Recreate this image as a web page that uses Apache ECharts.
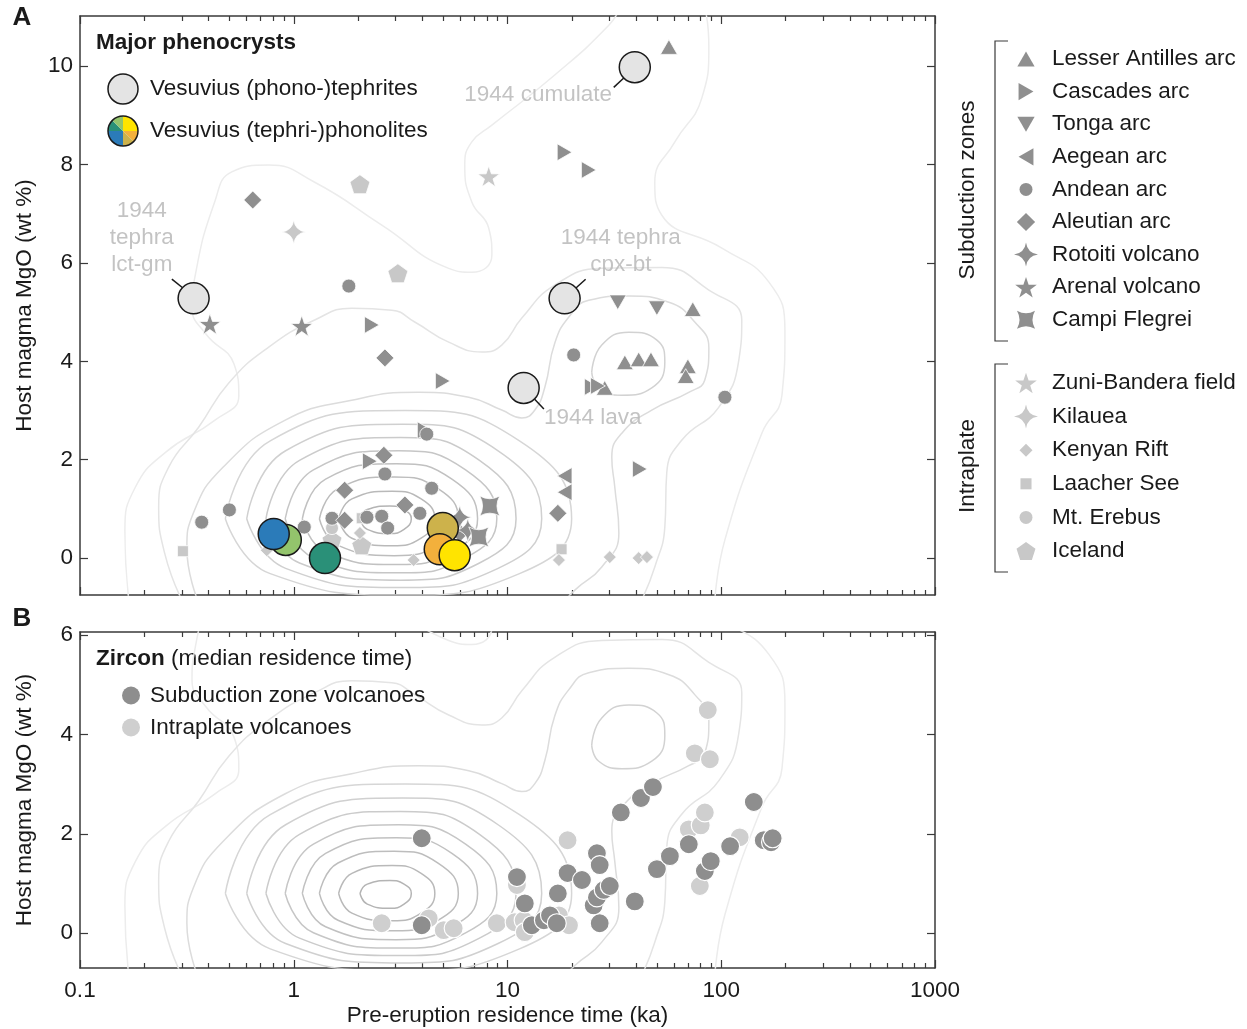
<!DOCTYPE html>
<html>
<head>
<meta charset="utf-8">
<title>Pre-eruption residence time vs host magma MgO</title>
<script src="https://cdn.jsdelivr.net/npm/echarts@6/dist/echarts.min.js"></script>
<style>
  html, body { margin: 0; padding: 0; background: #fff; }
  #chart { width: 1247px; height: 1029px; }
</style>
</head>
<body>
<div id="chart"></div>
<script>
// ---- ticks ----
var xMajor = [0.1, 1, 10, 100, 1000];
var xMinor = [0.2, 0.3, 0.4, 0.5, 0.6, 0.7, 0.8, 0.9, 2, 3, 4, 5, 6, 7, 8, 9,
  20, 30, 40, 50, 60, 70, 80, 90, 200, 300, 400, 500, 600, 700, 800, 900];
var yTicksA = [0, 2, 4, 6, 8, 10];
var yTicksB = [0, 2, 4, 6];

// ---- panel A: [residence time (ka), MgO (wt %)] ----
var lesserAntilles = [[56.9, 10.39], [73.6, 5.06], [35.4, 3.98], [41.1, 4.04], [46.9, 4.04], [69.8, 3.9], [68.2, 3.7], [28.5, 3.46]];
var cascades = [[18.5, 8.25], [24.0, 7.89], [2.32, 4.74], [4.98, 3.6], [4.1, 2.6], [2.27, 1.97], [41.6, 1.81], [24.8, 3.48], [26.5, 3.5]];
var tonga = [[32.8, 5.2], [50.0, 5.08]];
var aegean = [[18.5, 1.67], [18.5, 1.34]];
var andean = [[0.371, 0.73], [0.50, 0.98], [1.81, 5.53], [1.12, 0.63], [2.67, 1.71], [1.51, 0.81], [2.2, 0.83], [2.58, 0.85],
  [2.75, 0.61], [4.42, 1.42], [3.89, 0.91], [20.4, 4.13], [104, 3.27], [4.19, 2.52]];
var aleutian = [[0.643, 7.28], [2.67, 4.07], [2.64, 2.09], [1.73, 1.38], [3.31, 1.08], [1.73, 0.77], [17.2, 0.91], [5.37, 0.63], [5.98, 0.51]];
var rotoiti = [[5.98, 0.83], [6.52, 0.57]];
var arenal = [[0.405, 4.76], [1.09, 4.72]];
var campiFlegrei = [[8.26, 1.06], [7.34, 0.43]];
var zuniBandera = [[8.17, 7.76]];
var kilauea = [[1.0, 6.63]];
var kenyanRift = [[0.748, 0.16], [3.64, -0.04], [6.11, 0.02], [17.4, -0.04], [30.1, 0.02], [41.1, 0.0], [44.9, 0.02], [2.04, 0.51], [1.54, 0.12]];
var laacherSee = [[0.303, 0.14], [17.9, 0.18], [2.08, 0.81]];
var mtErebus = [[1.51, 0.61]];
var iceland = [[2.04, 7.6], [3.07, 5.79], [2.08, 0.26], [1.51, 0.37]];

var vesuviusTephrites = [[0.340, 5.28], [39.4, 9.98], [18.5, 5.28], [11.9, 3.46]];
var vesuviusPhonolites = [[0.918, 0.37], [0.806, 0.49], [1.40, 0.0], [4.98, 0.61], [4.82, 0.18], [5.66, 0.06]];
var phonoliteColors = ['#93c46c', '#2b7bb9', '#2a9078', '#cdb24b', '#f3b03c', '#ffe400'];

// 1944 annotations: anchor point of text, and leader line ends
var noteTexts = ['1944\ntephra\nlct-gm', '1944 cumulate', '1944 tephra\ncpx-bt', '1944 lava'];
var noteAnchors = [[0.1945, 6.52], [30.8, 9.41], [33.9, 6.24], [14.8, 2.85]];
var noteLeaders = [
  [[0.303, 5.49], [0.269, 5.67]],
  [[35.0, 9.76], [31.4, 9.57]],
  [[20.9, 5.49], [23.2, 5.67]],
  [[13.4, 3.23], [14.8, 3.03]]
];

// ---- panel B: zircon ----
var zirconSubduction = [[3.97, 1.91], [3.97, 0.16], [11.07, 1.13], [12.05, 0.6], [13.0, 0.16], [14.8, 0.26], [15.8, 0.36], [17.0, 0.2],
  [17.2, 0.8], [19.1, 1.21], [22.3, 1.07], [26.2, 1.61], [27.0, 1.37], [25.3, 0.56], [26.2, 0.72], [28.2, 0.87], [30.1, 0.95],
  [27.0, 0.2], [39.4, 0.64], [33.9, 2.43], [42.1, 2.72], [47.9, 2.94], [50.0, 1.29], [57.5, 1.55], [70.5, 1.79], [83.8, 1.25],
  [89.3, 1.45], [110, 1.75], [142, 2.64], [158, 1.87], [171, 1.83], [174, 1.91]];
var zirconIntraplate = [[2.58, 0.2], [4.28, 0.3], [5.03, 0.06], [5.6, 0.1], [8.91, 0.2], [11.07, 0.97], [10.8, 0.22], [11.9, 0.26],
  [12.05, 0.02], [17.4, 0.36], [19.4, 0.16], [19.1, 1.87], [70.5, 2.09], [80.2, 2.17], [83.8, 2.43], [86.5, 4.49], [75.2, 3.62],
  [88.5, 3.5], [79.4, 0.95], [122, 1.93]];

// ---- density contours, [log10(ka), MgO] ----
var contourOuter = [[-0.772, -0.85], [-0.79, 0.55], [-0.74, 1.45], [-0.6, 2.15], [-0.37, 2.8], [-0.257, 3.3], [-0.28, 3.95], [-0.41, 4.55],
  [-0.476, 5.1], [-0.463, 5.7], [-0.37, 7.24], [-0.29, 7.85], [-0.117, 7.99], [0.098, 7.64], [0.412, 6.77], [0.725, 5.89], [0.833, 5.81],
  [0.927, 6.16], [0.912, 6.71], [0.833, 7.24], [0.8, 7.99], [0.833, 8.46], [0.927, 8.8], [1.221, 9.82], [1.474, 10.83], [1.63, 11.65],
  [1.82, 11.65], [1.942, 10.37], [1.909, 9.35], [1.783, 8.46], [1.689, 7.64], [1.722, 6.97], [2.003, 6.3], [2.223, 5.61], [2.298, 4.59],
  [2.284, 3.31], [2.19, 2.54], [2.017, 0.37], [1.97, -0.85]];
var contourSecond = [[-0.524, -0.85], [-0.604, 0.1], [-0.632, 1.04], [-0.585, 1.85], [-0.445, 2.66], [-0.304, 3.56], [-0.117, 4.29],
  [0.098, 4.84], [0.271, 5.08], [0.459, 5.04], [0.566, 4.8], [0.725, 4.39], [0.88, 4.19], [0.973, 4.33], [1.067, 4.88], [1.221, 5.55],
  [1.441, 5.89], [1.722, 5.91], [1.942, 5.45], [2.096, 4.84], [2.082, 4.02], [1.989, 3.07], [1.816, 2.4], [1.745, 1.73], [1.736, 0.63],
  [1.689, -0.18], [1.628, -0.85]];
var contourBothPeaks = [[-0.45, -0.85], [-0.5, 0.2], [-0.47, 0.91], [-0.33, 1.85], [-0.042, 2.8], [0.271, 3.21], [0.585, 3.37],
  [0.819, 3.27], [0.973, 3.01], [1.067, 2.85], [1.128, 3.01], [1.175, 3.48], [1.221, 4.37], [1.287, 4.9], [1.38, 5.24], [1.568, 5.33],
  [1.755, 5.2], [1.876, 4.8], [1.942, 4.27], [1.923, 3.62], [1.848, 3.37], [1.675, 3.01], [1.535, 2.54], [1.488, 2.05], [1.502, 1.44],
  [1.521, 0.51], [1.441, -0.18], [1.315, -0.65], [1.254, -0.95]];
var contourPeak2 = [[1.394, 3.78], [1.441, 4.33], [1.568, 4.59], [1.699, 4.43], [1.736, 3.98], [1.675, 3.46], [1.535, 3.31], [1.427, 3.46], [1.394, 3.78]];
var ring8 = [[-0.32, 0.8], [-0.11, 2.384], [0.52, 3.0], [1.056, 2.384], [1.30, 0.8], [1.056, -0.316], [0.52, -0.75], [-0.11, -0.316], [-0.32, 0.8]];
var ring7 = [[-0.22, 0.8], [-0.038, 2.182], [0.51, 2.72], [0.956, 2.182], [1.16, 0.8], [0.956, -0.208], [0.51, -0.6], [-0.038, -0.208], [-0.22, 0.8]];
var ring6 = [[-0.13, 0.8], [0.027, 1.988], [0.50, 2.45], [0.869, 1.988], [1.04, 0.8], [0.869, -0.1], [0.50, -0.45], [0.027, -0.1], [-0.13, 0.8]];
var ring5 = [[-0.04, 0.8], [0.092, 1.794], [0.49, 2.18], [0.804, 1.794], [0.95, 0.8], [0.804, 0.008], [0.49, -0.3], [0.092, 0.008], [-0.04, 0.8]];
var ring4 = [[0.04, 0.8], [0.149, 1.606], [0.48, 1.92], [0.74, 1.606], [0.86, 0.8], [0.74, 0.13], [0.48, -0.13], [0.149, 0.13], [0.04, 0.8]];
var ring3 = [[0.12, 0.8], [0.207, 1.412], [0.47, 1.65], [0.675, 1.412], [0.77, 0.8], [0.675, 0.26], [0.47, 0.05], [0.207, 0.26], [0.12, 0.8]];
var ring2 = [[0.21, 0.8], [0.272, 1.203], [0.46, 1.36], [0.596, 1.203], [0.66, 0.8], [0.596, 0.404], [0.46, 0.25], [0.272, 0.404], [0.21, 0.8]];
var ring1 = [[0.31, 0.8], [0.344, 0.987], [0.45, 1.06], [0.516, 0.987], [0.55, 0.8], [0.516, 0.584], [0.45, 0.5], [0.344, 0.584], [0.31, 0.8]];

var contourLines = [contourOuter, contourSecond, contourBothPeaks, contourPeak2, ring8, ring7, ring6, ring5, ring4, ring3, ring2, ring1];
var contourColors = ['#ececec', '#e4e4e4', '#dcdcdc', '#d2d2d2', '#d6d6d6', '#d0d0d0', '#cbcbcb', '#c6c6c6', '#c1c1c1', '#bdbdbd', '#b9b9b9', '#b4b4b4'];

var FONT = '"Liberation Sans", Arial, sans-serif';
var FS = 22.5;
var INK = '#1a1a1a';
var DARK = '#8f8f8f';
var LIGHT = '#c8c8c8';
var AXIS = '#3a3a3a';

var SYM = {
  up: 'path://M50,0 L100,87 L0,87 Z',
  right: 'path://M0,0 L87,50 L0,100 Z',
  down: 'path://M0,0 L100,0 L50,87 Z',
  left: 'path://M87,0 L87,100 L0,50 Z',
  star5: 'path://M50,0 L61.8,35.3 L98.9,35.5 L69,57.7 L80.3,93.1 L50,71.5 L19.7,93.1 L31,57.7 L1.1,35.5 L38.2,35.3 Z',
  star4: 'path://M50,0 Q56,44 100,50 Q56,56 50,100 Q44,56 0,50 Q44,44 50,0 Z',
  bowtie: 'path://M0,0 Q50,28 100,0 Q72,50 100,100 Q50,72 0,100 Q28,50 0,0 Z',
  pentagon: 'path://M50,0 L97.6,34.5 L79.4,90.5 L20.6,90.5 L2.4,34.5 Z'
};

// legend icons: same shapes inside a fixed 0..100 box so their sizes differ like the marks
var BOX = 'path://M0,0 M100,100 ';
var ICON = {
  up: BOX + 'M50,19 L86,81 L14,81 Z',
  right: BOX + 'M19,14 L81,50 L19,86 Z',
  down: BOX + 'M14,19 L86,19 L50,81 Z',
  left: BOX + 'M81,14 L81,86 L19,50 Z',
  circle: BOX + 'M23,50 A27,27 0 1 1 77,50 A27,27 0 1 1 23,50 Z',
  diamond: BOX + 'M50,12 L88,50 L50,88 L12,50 Z',
  star4: BOX + 'M50,0 Q56,44 100,50 Q56,56 50,100 Q44,56 0,50 Q44,44 50,0 Z',
  star5: BOX + 'M50,7.2 L60.9,39.7 L95,39.9 L67.5,60.3 L77.9,92.9 L50,73 L22.1,92.9 L32.5,60.3 L5,39.9 L39.1,39.7 Z',
  bowtie: BOX + 'M12.5,12.5 Q50,33.5 87.5,12.5 Q66.5,50 87.5,87.5 Q50,66.5 12.5,87.5 Q33.5,50 12.5,12.5 Z',
  smallDiamond: BOX + 'M50,23 L77,50 L50,77 L23,50 Z',
  square: BOX + 'M27,27 L73,27 L73,73 L27,73 Z',
  pentagon: BOX + 'M50,12.4 L89.5,41 L74.4,87.5 L25.6,87.5 L10.5,41 Z'
};

function toKa(p) {
  return [Math.pow(10, p[0]), p[1]];
}

function markers(name, data, symbol, size, color) {
  return {
    name: name, type: 'scatter', xAxisIndex: 0, yAxisIndex: 0,
    data: data, symbol: symbol, symbolSize: size, symbolKeepAspect: true,
    itemStyle: { color: color, borderColor: '#fff', borderWidth: 0.8, opacity: 1 },
    z: 3
  };
}

function contourSeries(xi, yi) {
  return contourLines.map(function (line, i) {
    return {
      type: 'line', xAxisIndex: xi, yAxisIndex: yi,
      data: line.map(toKa), smooth: 0.5, symbol: 'none', silent: true, z: 1,
      lineStyle: { color: contourColors[i], width: 1.5 }
    };
  });
}

var tickStyle = { color: AXIS, width: 1.2 };
var lineOn = { show: true, onZero: false, lineStyle: { color: AXIS, width: 1.5 } };
var lineOff = { show: false, onZero: false };

function kaLabel(v) {
  return v < 1 ? v.toFixed(1) : String(Math.round(v));
}

function xAxes(gridIndex, withLabels) {
  var base = { gridIndex: gridIndex, type: 'log', logBase: 10, min: 0.1, max: 1000, splitLine: { show: false } };
  var bottom = Object.assign({}, base, {
    position: 'bottom', axisLine: lineOn,
    axisTick: { inside: true, length: 8, customValues: xMajor, lineStyle: tickStyle },
    axisLabel: { show: withLabels, customValues: xMajor, formatter: kaLabel, margin: 11, fontSize: FS, color: INK, fontFamily: FONT }
  });
  if (withLabels) {
    bottom.name = 'Pre-eruption residence time (ka)';
    bottom.nameLocation = 'middle';
    bottom.nameGap = 36;
    bottom.nameTextStyle = { fontSize: FS, color: INK, fontFamily: FONT };
  }
  return [
    bottom,
    Object.assign({}, base, {
      position: 'top', axisLine: lineOn,
      axisTick: { inside: true, length: 8, customValues: xMajor, lineStyle: tickStyle },
      axisLabel: { show: false }
    }),
    Object.assign({}, base, {
      position: 'bottom', axisLine: lineOff,
      axisTick: { inside: true, length: 5, customValues: xMinor, lineStyle: tickStyle },
      axisLabel: { show: false }
    }),
    Object.assign({}, base, {
      position: 'top', axisLine: lineOff,
      axisTick: { inside: true, length: 5, customValues: xMinor, lineStyle: tickStyle },
      axisLabel: { show: false }
    })
  ];
}

function yAxes(gridIndex, min, max, ticks) {
  var base = { gridIndex: gridIndex, type: 'value', min: min, max: max, splitLine: { show: false } };
  return [
    Object.assign({}, base, {
      position: 'left', axisLine: lineOn,
      axisTick: { inside: true, length: 8, customValues: ticks, lineStyle: tickStyle },
      axisLabel: { customValues: ticks, margin: 7, fontSize: FS, color: INK, fontFamily: FONT },
      name: 'Host magma MgO (wt %)', nameLocation: 'middle', nameGap: 44, nameRotate: 90,
      nameTextStyle: { fontSize: FS, color: INK, fontFamily: FONT }
    }),
    Object.assign({}, base, {
      position: 'right', axisLine: lineOn,
      axisTick: { inside: true, length: 8, customValues: ticks, lineStyle: tickStyle },
      axisLabel: { show: false }
    })
  ];
}

var series = [];
series = series.concat(contourSeries(0, 0), contourSeries(4, 2));

series.push(
  markers('Iceland', iceland, SYM.pentagon, 20, LIGHT),
  markers('Mt. Erebus', mtErebus, 'circle', 13, LIGHT),
  markers('Laacher See', laacherSee, 'rect', 11, LIGHT),
  markers('Kenyan Rift', kenyanRift, 'diamond', 13, LIGHT),
  markers('Kilauea', kilauea, SYM.star4, 24, LIGHT),
  markers('Zuni-Bandera field', zuniBandera, SYM.star5, 22, LIGHT),
  markers('Lesser Antilles arc', lesserAntilles, SYM.up, 17, DARK),
  markers('Cascades arc', cascades, SYM.right, 17, DARK),
  markers('Tonga arc', tonga, SYM.down, 17, DARK),
  markers('Aegean arc', aegean, SYM.left, 17, DARK),
  markers('Andean arc', andean, 'circle', 14, DARK),
  markers('Aleutian arc', aleutian, 'diamond', 18, DARK),
  markers('Rotoiti volcano', rotoiti, SYM.star4, 24, DARK),
  markers('Arenal volcano', arenal, SYM.star5, 22, DARK),
  markers('Campi Flegrei', campiFlegrei, SYM.bowtie, 20, DARK)
);

// Vesuvius
series.push({
  name: 'Vesuvius (phono-)tephrites', type: 'scatter', xAxisIndex: 0, yAxisIndex: 0,
  data: vesuviusTephrites, symbolSize: 31, z: 5,
  itemStyle: { color: '#e4e4e4', borderColor: INK, borderWidth: 1.5, opacity: 1 }
});
series.push({
  name: 'Vesuvius (tephri-)phonolites', type: 'scatter', xAxisIndex: 0, yAxisIndex: 0,
  data: vesuviusPhonolites.map(function (p, i) {
    return { value: p, itemStyle: { color: phonoliteColors[i] } };
  }),
  symbolSize: 31, z: 5,
  itemStyle: { borderColor: INK, borderWidth: 1.5, opacity: 1 }
});

// 1944 leader lines and labels
noteLeaders.forEach(function (seg) {
  series.push({
    type: 'line', xAxisIndex: 0, yAxisIndex: 0, data: seg, symbol: 'none', silent: true, z: 4,
    lineStyle: { color: INK, width: 1.5 }
  });
});
var notePositions = ['inside', 'left', 'inside', 'right'];
var noteAligns = ['center', 'right', 'center', 'left'];
series.push({
  type: 'scatter', xAxisIndex: 0, yAxisIndex: 0, symbolSize: 0, silent: true, z: 4,
  data: noteAnchors.map(function (p, i) {
    return {
      value: p,
      label: { show: true, formatter: noteTexts[i], position: notePositions[i], distance: 0, align: noteAligns[i] }
    };
  }),
  label: { fontSize: FS, color: '#b4b4b4', fontFamily: FONT, lineHeight: 27 }
});

// zircon
series.push({
  name: 'Intraplate volcanoes', type: 'scatter', xAxisIndex: 4, yAxisIndex: 2,
  data: zirconIntraplate, symbolSize: 19, z: 3,
  itemStyle: { color: '#cfcfcf', borderColor: '#fff', borderWidth: 1.2, opacity: 1 }
});
series.push({
  name: 'Subduction zone volcanoes', type: 'scatter', xAxisIndex: 4, yAxisIndex: 2,
  data: zirconSubduction, symbolSize: 19, z: 3,
  itemStyle: { color: '#8e8e8e', borderColor: '#fff', borderWidth: 1.2, opacity: 1 }
});

var subductionLegend = [
  { name: 'Lesser Antilles arc', icon: ICON.up },
  { name: 'Cascades arc', icon: ICON.right },
  { name: 'Tonga arc', icon: ICON.down },
  { name: 'Aegean arc', icon: ICON.left },
  { name: 'Andean arc', icon: ICON.circle },
  { name: 'Aleutian arc', icon: ICON.diamond },
  { name: 'Rotoiti volcano', icon: ICON.star4 },
  { name: 'Arenal volcano', icon: ICON.star5 },
  { name: 'Campi Flegrei', icon: ICON.bowtie }
];
var intraplateLegend = [
  { name: 'Zuni-Bandera field', icon: ICON.star5 },
  { name: 'Kilauea', icon: ICON.star4 },
  { name: 'Kenyan Rift', icon: ICON.smallDiamond },
  { name: 'Laacher See', icon: ICON.square },
  { name: 'Mt. Erebus', icon: ICON.circle },
  { name: 'Iceland', icon: ICON.pentagon }
];

var legendText = { fontSize: FS, color: INK, fontFamily: FONT, padding: [0, 0, 0, 9] };
var legendTextB = { fontSize: FS, color: INK, fontFamily: FONT, padding: [0, 0, 0, 5] };
var noBorder = { borderWidth: 0 };

var option = {
  animation: false,
  backgroundColor: '#fff',
  textStyle: { fontFamily: FONT },
  grid: [
    { left: 80, top: 16, width: 855, height: 579 },
    { left: 80, top: 632, width: 855, height: 336 }
  ],
  xAxis: xAxes(0, false).concat(xAxes(1, true)),
  yAxis: yAxes(0, -0.75, 11.02, yTicksA).concat(yAxes(1, -0.7, 6.06, yTicksB)),
  legend: [
    {
      orient: 'vertical', left: 1014, top: 47, padding: 0, itemWidth: 24, itemHeight: 24, itemGap: 8.6,
      selectedMode: false, data: subductionLegend, textStyle: legendText, itemStyle: noBorder
    },
    {
      orient: 'vertical', left: 1014, top: 371, padding: 0, itemWidth: 24, itemHeight: 24, itemGap: 9.6,
      selectedMode: false, data: intraplateLegend, textStyle: legendText, itemStyle: noBorder
    },
    {
      orient: 'vertical', left: 122, top: 684, padding: 0, itemWidth: 18, itemHeight: 18, itemGap: 9,
      selectedMode: false, data: ['Subduction zone volcanoes', 'Intraplate volcanoes'],
      textStyle: legendTextB, itemStyle: noBorder
    }
  ],
  graphic: [
    { type: 'text', x: 22, y: 18, style: { text: 'A', fontSize: 26, fontWeight: 'bold', fontFamily: FONT, fill: INK, align: 'center', verticalAlign: 'middle' } },
    { type: 'text', x: 22, y: 619, style: { text: 'B', fontSize: 26, fontWeight: 'bold', fontFamily: FONT, fill: INK, align: 'center', verticalAlign: 'middle' } },
    { type: 'text', x: 96, y: 43, style: { text: 'Major phenocrysts', fontSize: FS, fontWeight: 'bold', fontFamily: FONT, fill: INK, verticalAlign: 'middle' } },
    { type: 'circle', shape: { cx: 123, cy: 89, r: 15 }, style: { fill: '#e4e4e4', stroke: INK, lineWidth: 1.5 } },
    { type: 'text', x: 150, y: 89, style: { text: 'Vesuvius (phono-)tephrites', fontSize: FS, fontFamily: FONT, fill: INK, verticalAlign: 'middle' } },
    { type: 'sector', shape: { cx: 123, cy: 131, r: 15, startAngle: -Math.PI / 2, endAngle: 0 }, style: { fill: '#ffe400' } },
    { type: 'sector', shape: { cx: 123, cy: 131, r: 15, startAngle: 0, endAngle: Math.PI / 4 }, style: { fill: '#f3b03c' } },
    { type: 'sector', shape: { cx: 123, cy: 131, r: 15, startAngle: Math.PI / 4, endAngle: Math.PI / 2 }, style: { fill: '#cdb24b' } },
    { type: 'sector', shape: { cx: 123, cy: 131, r: 15, startAngle: Math.PI / 2, endAngle: Math.PI }, style: { fill: '#2b7bb9' } },
    { type: 'sector', shape: { cx: 123, cy: 131, r: 15, startAngle: Math.PI, endAngle: Math.PI * 1.25 }, style: { fill: '#2a9078' } },
    { type: 'sector', shape: { cx: 123, cy: 131, r: 15, startAngle: Math.PI * 1.25, endAngle: Math.PI * 1.5 }, style: { fill: '#93c46c' } },
    { type: 'circle', shape: { cx: 123, cy: 131, r: 15 }, style: { fill: 'none', stroke: INK, lineWidth: 1.5 } },
    { type: 'text', x: 150, y: 131, style: { text: 'Vesuvius (tephri-)phonolites', fontSize: FS, fontFamily: FONT, fill: INK, verticalAlign: 'middle' } },
    {
      type: 'text', x: 96, y: 659,
      style: {
        text: '{b|Zircon} (median residence time)', fontSize: FS, fontFamily: FONT, fill: INK, verticalAlign: 'middle',
        rich: { b: { fontSize: FS, fontWeight: 'bold', fontFamily: FONT, fill: INK } }
      }
    },
    { type: 'polyline', shape: { points: [[1008, 41], [995, 41], [995, 341], [1008, 341]] }, style: { stroke: AXIS, lineWidth: 1.2, fill: null } },
    { type: 'polyline', shape: { points: [[1008, 364], [995, 364], [995, 572], [1008, 572]] }, style: { stroke: AXIS, lineWidth: 1.2, fill: null } },
    { type: 'text', x: 968, y: 190, rotation: Math.PI / 2, style: { text: 'Subduction zones', fontSize: FS, fontFamily: FONT, fill: INK, align: 'center', verticalAlign: 'middle' } },
    { type: 'text', x: 968, y: 466, rotation: Math.PI / 2, style: { text: 'Intraplate', fontSize: FS, fontFamily: FONT, fill: INK, align: 'center', verticalAlign: 'middle' } }
  ],
  series: series
};

var myChart = echarts.init(document.getElementById('chart'));
myChart.setOption(option);
window.addEventListener('resize', function () {
  myChart.resize();
});
</script>
</body>
</html>
